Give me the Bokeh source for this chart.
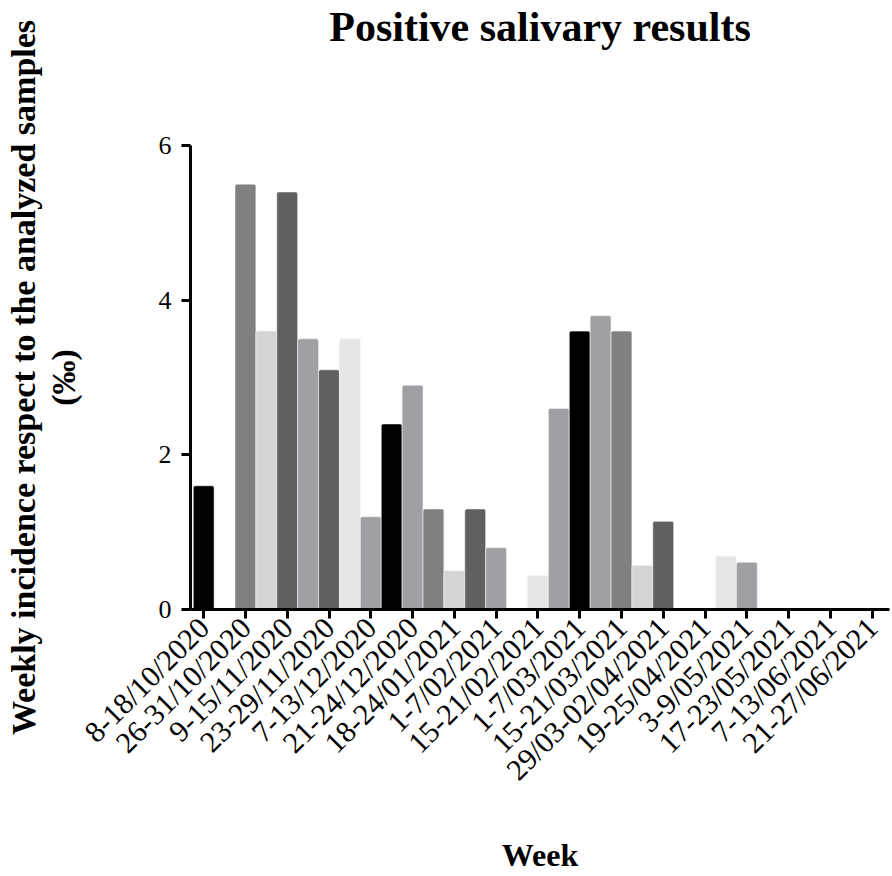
from bokeh.plotting import figure
from bokeh.models import Range1d, FixedTicker, ColumnDataSource, Title
from bokeh.embed import file_html
from bokeh.resources import INLINE
import math

# ---- data ----
week_labels = ["8-18/10/2020", "26-31/10/2020", "9-15/11/2020", "23-29/11/2020",
               "7-13/12/2020", "21-24/12/2020", "18-24/01/2021", "1-7/02/2021",
               "15-21/02/2021", "1-7/03/2021", "15-21/03/2021", "29/03-02/04/2021",
               "19-25/04/2021", "3-9/05/2021", "17-23/05/2021", "7-13/06/2021",
               "21-27/06/2021"]
incidence = [1.6, 0.0, 5.5, 3.6, 5.4, 3.5, 3.1, 3.5, 1.2,
             2.4, 2.9, 1.3, 0.5, 1.3, 0.8, 0.0, 0.44, 2.6,
             3.6, 3.8, 3.6, 0.57, 1.14, 0.0, 0.0, 0.69, 0.61,
             0.0, 0.0, 0.0, 0.0, 0.0, 0.0]
y_ticks = [0, 2, 4, 6]
title_text = "Positive salivary results"
x_title = "Week"
y_title = "Weekly incidence respect to the analyzed samples"
y_unit = "(\u2030)"

# ---- style ----
palette = ["#000000", "#a0a0a4", "#808080", "#d4d4d4", "#606060",
           "#a0a0a4", "#606060", "#e6e6e6", "#a0a0a4"]
FONT = "Liberation Serif"

xs = list(range(len(incidence)))
colors = [palette[i % len(palette)] for i in xs]
src = ColumnDataSource(dict(x=xs, top=incidence, color=colors))

X0, X1 = -0.63, 32.83
p = figure(width=892, height=876, output_backend="svg", toolbar_location=None,
           x_range=Range1d(X0, X1), y_range=Range1d(0, 6), title=None,
           min_border_left=190, min_border_right=3, min_border_top=145,
           min_border_bottom=267)

p.vbar(x="x", top="top", width=1.0, source=src, fill_color="color",
       line_color="#f4f4f4", line_width=0.6, border_radius=2)

# spacer above the frame, then the chart title further out
p.add_layout(Title(text=" ", text_font_size="84px", standoff=0), "above")
p.add_layout(Title(text=title_text, text_font=FONT, text_font_size="42px",
                   text_font_style="bold", text_color="black", align="center",
                   standoff=0), "above")

p.xgrid.visible = False
p.ygrid.visible = False
p.outline_line_color = None

for ax in (p.xaxis[0], p.yaxis[0]):
    ax.axis_line_width = 3
    ax.axis_line_color = "black"
    ax.major_tick_line_width = 3
    ax.major_tick_out = 9
    ax.major_tick_in = 0
    ax.minor_tick_line_color = None
    ax.major_label_text_font = FONT
    ax.major_label_text_color = "black"
    ax.axis_label_text_font = FONT
    ax.axis_label_text_font_style = "bold"
    ax.axis_label_text_color = "black"

p.yaxis.ticker = FixedTicker(ticks=y_ticks)
p.yaxis.major_label_text_font_size = "26px"
p.yaxis.major_label_standoff = 10
p.yaxis.axis_label = y_unit
p.yaxis.axis_label_text_font_size = "34px"
p.yaxis.axis_label_standoff = 74

p.add_layout(Title(text=y_title, text_font=FONT, text_font_size="34px",
                   text_font_style="bold", text_color="black", align="center",
                   standoff=0), "left")

tick_pos = [2 * i for i in range(len(week_labels))]
p.xaxis.ticker = FixedTicker(ticks=tick_pos)
p.xaxis.major_label_overrides = {t: lab for t, lab in zip(tick_pos, week_labels)}
p.xaxis.major_label_orientation = math.pi / 4
p.xaxis.major_label_text_font_size = "30px"
p.xaxis.major_label_standoff = 4
p.xaxis.axis_label = x_title
p.xaxis.axis_label_text_font_size = "32px"
p.xaxis.axis_label_standoff = 36

open("out.html", "w").write(file_html(p, INLINE))
